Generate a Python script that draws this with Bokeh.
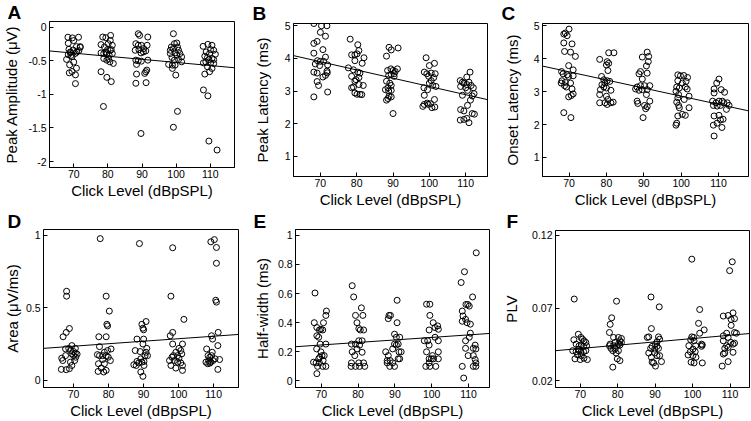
from bokeh.plotting import figure
from bokeh.layouts import column, row
from bokeh.models import Range1d, FixedTicker
from bokeh.embed import file_html
from bokeh.resources import INLINE

FONT = "Liberation Sans"

x_ticks = [70, 80, 90, 100, 110]
x_tick_labels = ["70", "80", "90", "100", "110"]
x_label = "Click Level (dBpSPL)"

# ---------------- Panel A: Peak amplitude (uV) ----------------
a_points = [
    (68.3, -0.15), (69.6, -0.16), (71.4, -0.15), (70.0, -0.20), (68.4, -0.24), (70.8, -0.29), (71.9, -0.29),
    (68.6, -0.33), (69.8, -0.34), (69.0, -0.37), (70.9, -0.37), (70.5, -0.39), (68.4, -0.41), (69.5, -0.44),
    (67.9, -0.48), (70.0, -0.52), (68.8, -0.56), (70.8, -0.61), (69.5, -0.66), (68.7, -0.68), (70.5, -0.71),
    (70.5, -0.84), (71.5, -0.35), (69.2, -0.42), (71.9, -0.30), (69.0, -0.38),
    (78.5, -0.147), (79.4, -0.157), (80.8, -0.123), (78.0, -0.26), (79.0, -0.295), (80.1, -0.246), (80.7, -0.197),
    (81.3, -0.27), (79.9, -0.334), (81.0, -0.334), (78.0, -0.383), (78.8, -0.393), (79.4, -0.369), (80.4, -0.418),
    (81.3, -0.393), (78.8, -0.467), (79.7, -0.491), (80.6, -0.516), (81.6, -0.54), (80.2, -0.467), (78.0, -0.663),
    (79.7, -0.747), (81.0, -0.81), (78.7, -1.18), (79.7, -0.393), (80.7, -0.344),
    (88.9, -0.098), (89.3, -0.123), (91.7, -0.147), (88.2, -0.246), (88.9, -0.27), (89.8, -0.27), (90.5, -0.319),
    (89.1, -0.334), (88.0, -0.344), (91.1, -0.354), (91.5, -0.27), (90.4, -0.369), (88.2, -0.491), (88.9, -0.501),
    (89.8, -0.506), (91.7, -0.491), (88.4, -0.555), (91.4, -0.639), (91.1, -0.663), (90.8, -0.688), (88.4, -0.698),
    (88.2, -0.835), (91.2, -0.826), (89.7, -1.582), (89.7, -0.383),
    (99.2, -0.098), (99.5, -0.246), (100.2, -0.236), (98.6, -0.295), (99.2, -0.319), (100.4, -0.295), (98.3, -0.393),
    (99.7, -0.383), (101.1, -0.393), (101.6, -0.442), (98.8, -0.452), (100.2, -0.418), (100.7, -0.482), (97.8, -0.555),
    (98.9, -0.565), (99.7, -0.565), (101.6, -0.516), (98.9, -0.614), (99.9, -0.713), (100.4, -1.253), (99.2, -1.489),
    (98.3, -0.344), (100.7, -0.344), (99.5, -0.491),
    (107.9, -0.285), (109.3, -0.256), (110.5, -0.27), (110.1, -0.334), (111.0, -0.344), (108.8, -0.369), (109.8, -0.393),
    (108.4, -0.432), (109.2, -0.452), (109.6, -0.482), (110.5, -0.467), (111.0, -0.482), (108.0, -0.531), (108.7, -0.516),
    (110.1, -0.531), (111.0, -0.541), (109.2, -0.59), (110.5, -0.614), (109.8, -0.663), (108.4, -0.698), (108.0, -0.934),
    (109.3, -1.022), (109.6, -1.695), (112.0, -1.828), (111.5, -0.403),
]
a_fit = (-0.479, -0.00461)   # fitted value at 90 dB, slope per dB
a_yticks = [0, -0.5, -1, -1.5, -2]
a_ylabels = ["0", "-0.5", "-1", "-1.5", "-2"]

# ---------------- Panel B: Peak latency (ms) ----------------
b_points = [
    (68.2, 5.07), (70.3, 5.0), (71.8, 5.0), (70.0, 4.8), (71.4, 4.68), (69.1, 4.52), (68.2, 4.46), (70.7, 4.27),
    (68.2, 4.16), (71.4, 4.04), (69.2, 3.93), (70.0, 3.91), (70.9, 3.91), (68.6, 3.83), (72.0, 3.80), (69.8, 3.78),
    (68.2, 3.58), (69.1, 3.55), (71.8, 3.61), (71.4, 3.48), (70.7, 3.43), (69.1, 3.29), (69.5, 3.17), (72.0, 2.97),
    (68.2, 2.82), (71.9, 3.56),
    (78.2, 4.59), (80.3, 4.42), (78.6, 4.11), (79.5, 4.11), (80.6, 4.24), (80.1, 4.14), (79.5, 3.93), (82.0, 4.02),
    (77.7, 3.71), (79.1, 3.65), (81.5, 3.85), (80.3, 3.58), (78.6, 3.45), (80.9, 3.55), (79.8, 3.35), (80.6, 3.41),
    (79.5, 3.30), (81.8, 3.17), (78.6, 3.10), (79.1, 3.12), (79.5, 2.94), (80.9, 2.90), (81.4, 2.89), (80.1, 2.90),
    (80.6, 3.20),
    (88.9, 4.34), (88.2, 4.07), (89.5, 4.26), (91.4, 4.32), (88.5, 3.63), (89.4, 3.68), (90.0, 3.63), (90.6, 3.60),
    (91.2, 3.68), (88.8, 3.48), (89.5, 3.51), (90.3, 3.53), (88.2, 3.30), (89.1, 3.24), (89.5, 3.17), (88.6, 3.10),
    (87.9, 3.04), (88.8, 3.0), (89.5, 3.02), (88.9, 2.84), (89.5, 2.82), (88.6, 2.77), (88.2, 2.72), (90.0, 2.31),
    (90.3, 3.45),
    (99.1, 4.02), (100.0, 3.78), (101.4, 3.85), (98.6, 3.58), (99.3, 3.53), (100.5, 3.55), (101.6, 3.53), (101.2, 3.41),
    (99.8, 3.45), (100.5, 3.32), (100.0, 3.24), (98.5, 3.10), (100.9, 3.17), (101.8, 3.14), (99.5, 3.04), (98.6, 2.87),
    (99.4, 2.63), (98.6, 2.59), (100.3, 2.61), (101.4, 2.74), (98.2, 2.53), (100.7, 2.49), (101.5, 2.51), (99.7, 2.59),
    (108.5, 3.32), (109.1, 3.27), (110.3, 3.43), (111.2, 3.58), (109.5, 3.24), (110.3, 3.20), (110.9, 3.27), (111.5, 3.17),
    (112.1, 3.10), (108.6, 3.14), (110.0, 3.10), (112.3, 2.92), (111.8, 2.85), (109.1, 2.87), (110.5, 3.02), (111.3, 2.72),
    (110.5, 2.56), (108.6, 2.43), (109.5, 2.39), (111.8, 2.31), (112.4, 2.29), (110.3, 2.16), (109.5, 2.13), (110.9, 2.03),
    (108.5, 2.11),
]
b_fit = (3.393, -0.02528)
b_yticks = [1, 2, 3, 4, 5]
b_ylabels = ["1", "2", "3", "4", "5"]

# ---------------- Panel C: Onset latency (ms) ----------------
c_points = [
    (70.0, 4.90), (69.0, 4.78), (69.5, 4.70), (68.6, 4.75), (68.6, 4.48), (70.8, 4.45), (68.8, 4.22), (70.4, 4.20),
    (71.7, 4.07), (69.9, 3.79), (71.1, 3.66), (68.0, 3.61), (68.4, 3.54), (69.5, 3.51), (69.9, 3.46), (71.1, 3.48),
    (68.1, 3.33), (69.0, 3.28), (67.9, 3.26), (70.4, 3.26), (68.8, 3.18), (69.3, 3.14), (70.8, 3.08), (71.1, 2.93),
    (70.6, 2.88), (69.9, 2.84), (68.6, 2.36), (70.5, 2.21),
    (78.2, 3.98), (80.6, 4.18), (82.0, 4.18), (80.2, 3.91), (80.6, 3.86), (80.0, 3.81), (80.4, 3.64), (78.7, 3.46),
    (79.3, 3.36), (80.2, 3.33), (80.9, 3.31), (79.6, 3.26), (78.8, 3.21), (79.3, 3.14), (78.4, 3.06), (81.2, 3.04),
    (80.0, 3.11), (78.2, 2.91), (80.0, 2.86), (80.4, 2.76), (78.2, 2.66), (79.6, 2.66), (81.2, 2.66), (81.8, 2.68),
    (80.2, 2.61),
    (89.6, 4.05), (90.9, 4.20), (91.3, 4.07), (91.2, 3.91), (90.7, 3.78), (89.1, 3.61), (88.7, 3.54), (90.9, 3.56),
    (89.6, 3.38), (89.1, 3.18), (88.2, 3.14), (90.2, 3.18), (91.6, 3.18), (87.8, 3.08), (88.7, 3.04), (89.6, 3.06),
    (90.9, 3.06), (90.7, 2.91), (88.2, 2.71), (88.4, 2.64), (90.2, 2.58), (90.9, 2.54), (90.5, 2.48), (89.8, 2.21),
    (91.6, 2.71),
    (99.1, 3.51), (99.8, 3.48), (100.7, 3.49), (101.7, 3.43), (99.1, 3.33), (100.3, 3.26), (101.3, 3.31), (98.8, 3.14),
    (99.5, 3.11), (101.1, 3.14), (101.6, 3.08), (98.6, 3.01), (99.3, 2.91), (100.8, 2.76), (102.1, 2.86), (99.1, 2.81),
    (98.8, 2.68), (99.3, 2.58), (99.5, 2.51), (102.1, 2.51), (100.3, 2.31), (101.1, 2.28), (99.1, 2.26), (98.8, 2.04),
    (98.6, 1.98),
    (110.1, 3.38), (109.5, 3.26), (108.8, 3.08), (110.7, 3.06), (108.8, 2.96), (108.4, 2.71), (109.3, 2.66), (110.1, 2.71),
    (111.0, 2.71), (111.4, 2.66), (112.3, 2.66), (108.6, 2.58), (109.6, 2.56), (110.5, 2.58), (112.8, 2.58), (112.1, 2.46),
    (108.8, 2.26), (110.1, 2.28), (110.5, 2.14), (111.2, 2.16), (109.6, 2.04), (108.6, 1.98), (110.9, 1.91), (108.8, 1.65),
    (111.6, 2.98),
]
c_fit = (3.107, -0.02469)
c_yticks = [1, 2, 3, 4, 5]
c_ylabels = ["1", "2", "3", "4", "5"]

# ---------------- Panel D: Area (uV/ms) ----------------
d_points = [
    (68.0, 0.614), (68.0, 0.58), (67.0, 0.30), (67.9, 0.33), (68.8, 0.357), (69.5, 0.239), (67.7, 0.216), (68.6, 0.22),
    (69.1, 0.205), (70.0, 0.198), (70.5, 0.22), (66.6, 0.152), (66.9, 0.136), (67.7, 0.17), (69.5, 0.182), (70.0, 0.17),
    (70.5, 0.186), (70.6, 0.159), (70.3, 0.136), (69.5, 0.102), (69.1, 0.125), (66.5, 0.075), (67.9, 0.073), (68.8, 0.08),
    (71.0, 0.18),
    (77.6, 0.977), (79.3, 0.58), (80.2, 0.477), (79.5, 0.386), (79.7, 0.375), (77.2, 0.30), (79.3, 0.30), (77.4, 0.232),
    (80.7, 0.216), (78.8, 0.193), (79.7, 0.205), (76.8, 0.177), (78.3, 0.17), (79.3, 0.17), (79.9, 0.159), (80.5, 0.136),
    (78.3, 0.143), (77.1, 0.114), (78.8, 0.114), (77.9, 0.084), (77.0, 0.061), (78.6, 0.057), (79.3, 0.068), (77.4, 0.17),
    (88.8, 0.943), (90.7, 0.405), (89.5, 0.386), (89.8, 0.359), (90.0, 0.348), (88.1, 0.284), (90.0, 0.284), (89.8, 0.25),
    (87.6, 0.205), (89.0, 0.198), (90.9, 0.22), (90.4, 0.17), (91.1, 0.17), (89.2, 0.148), (88.1, 0.13), (88.6, 0.12),
    (89.5, 0.125), (90.1, 0.13), (87.2, 0.107), (87.9, 0.102), (90.1, 0.102), (89.2, 0.057), (89.8, 0.027), (90.7, 0.193),
    (98.3, 0.914), (97.8, 0.58), (101.5, 0.42), (98.3, 0.33), (97.6, 0.307), (98.3, 0.25), (101.1, 0.25), (100.1, 0.22),
    (100.6, 0.205), (99.2, 0.193), (98.5, 0.17), (99.7, 0.17), (100.9, 0.182), (98.1, 0.159), (97.4, 0.136), (98.8, 0.136),
    (99.7, 0.125), (100.6, 0.12), (101.1, 0.102), (97.8, 0.102), (99.2, 0.084), (101.1, 0.068), (100.1, 0.152),
    (109.2, 0.955), (110.2, 0.97), (110.8, 0.916), (110.8, 0.807), (110.6, 0.552), (110.8, 0.539), (111.3, 0.33),
    (109.4, 0.307), (109.7, 0.284), (108.0, 0.216), (111.2, 0.239), (109.6, 0.193), (108.4, 0.17), (108.9, 0.159),
    (109.4, 0.17), (108.6, 0.136), (107.8, 0.125), (108.3, 0.114), (109.2, 0.125), (109.8, 0.136), (110.4, 0.148),
    (111.7, 0.143), (111.2, 0.075), (108.9, 0.118),
]
d_fit = (0.2693, 0.001724)
d_yticks = [0, 0.5, 1]
d_ylabels = ["0", "0.5", "1"]

# ---------------- Panel E: Half-width (ms) ----------------
e_points = [
    (68.3, 0.604), (68.1, 0.40), (71.25, 0.45), (71.4, 0.48), (70.6, 0.40), (69.9, 0.355), (70.4, 0.35), (68.8, 0.367),
    (69.5, 0.35), (68.8, 0.31), (69.3, 0.30), (69.7, 0.253), (71.25, 0.253), (68.75, 0.22), (69.9, 0.20), (70.2, 0.174),
    (70.8, 0.174), (69.6, 0.163), (67.9, 0.129), (68.6, 0.124), (69.3, 0.152), (69.0, 0.10), (69.5, 0.124), (70.4, 0.10),
    (71.25, 0.10), (68.8, 0.05), (70.5, 0.14),
    (78.4, 0.654), (78.8, 0.577), (80.9, 0.502), (79.3, 0.45), (81.3, 0.45), (79.7, 0.40), (80.2, 0.36), (80.6, 0.35),
    (81.5, 0.35), (78.2, 0.253), (80.2, 0.276), (81.1, 0.276), (79.3, 0.253), (80.4, 0.246), (78.4, 0.20), (79.7, 0.22),
    (81.1, 0.197), (79.1, 0.174), (78.2, 0.124), (80.2, 0.124), (81.5, 0.124), (78.1, 0.10), (79.3, 0.10), (80.4, 0.10),
    (81.8, 0.10),
    (90.6, 0.554), (88.4, 0.45), (88.8, 0.45), (88.2, 0.428), (90.6, 0.40), (89.9, 0.321), (90.4, 0.30), (91.3, 0.30),
    (87.5, 0.20), (88.2, 0.174), (88.7, 0.14), (89.9, 0.253), (90.4, 0.247), (90.9, 0.253), (89.4, 0.22), (91.1, 0.20),
    (91.7, 0.20), (87.9, 0.124), (89.4, 0.124), (88.6, 0.10), (89.9, 0.10), (90.9, 0.152), (91.3, 0.152), (87.9, 0.14),
    (98.6, 0.527), (99.5, 0.527), (99.5, 0.45), (100.4, 0.40), (100.9, 0.367), (101.6, 0.378), (101.8, 0.355), (99.3, 0.35),
    (98.0, 0.276), (98.9, 0.276), (100.9, 0.30), (101.8, 0.276), (99.3, 0.246), (98.6, 0.20), (101.8, 0.20), (100.2, 0.174),
    (99.3, 0.152), (99.9, 0.152), (100.5, 0.152), (101.8, 0.152), (99.3, 0.124), (99.5, 0.10), (101.1, 0.10), (98.4, 0.10),
    (112.1, 0.88), (108.9, 0.75), (108.0, 0.676), (111.1, 0.577), (109.8, 0.525), (109.3, 0.525), (110.2, 0.514),
    (108.3, 0.48), (108.5, 0.446), (109.2, 0.423), (108.3, 0.41), (109.6, 0.40), (110.5, 0.39), (110.5, 0.328),
    (110.2, 0.30), (109.2, 0.276), (111.8, 0.246), (111.3, 0.224), (112.0, 0.22), (109.2, 0.224), (109.9, 0.174),
    (111.3, 0.174), (111.8, 0.147), (112.0, 0.124), (108.3, 0.10), (111.3, 0.10), (112.0, 0.10), (108.7, 0.02),
]
e_fit = (0.2816, 0.001727)
e_yticks = [0, 0.2, 0.4, 0.6, 0.8, 1]
e_ylabels = ["0", "0.2", "0.4", "0.6", "0.8", "1"]

# ---------------- Panel F: PLV ----------------
f_points = [
    (68.4, 0.0763), (68.3, 0.0483), (69.5, 0.0521), (70.2, 0.0499), (70.6, 0.0487), (71.0, 0.0476), (71.5, 0.0465),
    (68.9, 0.0453), (69.7, 0.0442), (70.3, 0.0447), (70.9, 0.0438), (68.0, 0.0408), (68.9, 0.0401), (69.7, 0.0408),
    (70.2, 0.0397), (70.9, 0.0401), (71.5, 0.0408), (69.3, 0.0379), (70.3, 0.0374), (68.6, 0.0352), (70.0, 0.0347),
    (71.0, 0.0356), (71.9, 0.0347), (69.5, 0.0419), (71.7, 0.0442),
    (79.7, 0.0748), (78.4, 0.0634), (78.0, 0.0589), (77.8, 0.0533), (78.9, 0.0499), (80.2, 0.0499), (81.0, 0.0492),
    (80.6, 0.0476), (79.3, 0.0465), (78.0, 0.0453), (80.2, 0.0453), (78.9, 0.0442), (79.7, 0.0438), (80.6, 0.0447),
    (78.2, 0.0424), (79.3, 0.0419), (78.7, 0.0408), (80.2, 0.0408), (79.6, 0.0392), (79.9, 0.0352), (80.6, 0.034),
    (78.7, 0.0295), (77.8, 0.0442), (81.0, 0.0465),
    (88.9, 0.0777), (91.1, 0.0709), (89.0, 0.056), (88.3, 0.0503), (87.9, 0.0499), (90.9, 0.0503), (91.2, 0.0487),
    (90.5, 0.0469), (90.1, 0.0453), (89.2, 0.0438), (90.5, 0.0438), (89.9, 0.0419), (88.8, 0.0424), (90.9, 0.0424),
    (89.9, 0.0392), (90.5, 0.0374), (89.0, 0.0363), (89.2, 0.0329), (89.6, 0.0324), (91.7, 0.0333), (90.1, 0.0302),
    (91.2, 0.0374), (88.3, 0.0392),
    (99.8, 0.1037), (101.9, 0.0691), (101.6, 0.0596), (103.1, 0.0551), (101.9, 0.0528), (99.8, 0.0503), (100.3, 0.0499),
    (99.5, 0.0483), (100.4, 0.0476), (99.0, 0.0442), (100.8, 0.0442), (102.4, 0.0453), (102.6, 0.0447), (102.4, 0.0438),
    (100.1, 0.0419), (99.4, 0.0401), (100.7, 0.0401), (98.8, 0.0379), (100.1, 0.0374), (100.9, 0.0363), (99.6, 0.0329),
    (100.4, 0.0324), (102.6, 0.0324),
    (109.9, 0.0958), (110.6, 0.1019), (108.2, 0.0646), (109.5, 0.0650), (110.8, 0.0668), (111.2, 0.0628), (110.3, 0.0623),
    (110.3, 0.0582), (108.2, 0.0510), (109.1, 0.0528), (109.5, 0.0499), (111.2, 0.0533), (111.7, 0.0528), (108.2, 0.0476),
    (110.2, 0.0465), (111.2, 0.0460), (110.8, 0.0453), (109.1, 0.0442), (108.6, 0.0424), (109.5, 0.0431), (108.2, 0.0385),
    (108.6, 0.0392), (110.8, 0.0397), (109.5, 0.0333), (107.9, 0.0302),
]
f_fit = (0.04686, 0.0002278)
f_yticks = [0.02, 0.07, 0.12]
f_ylabels = ["0.02", "0.07", "0.12"]


def panel(letter, points, fit, ylabel, yticks, ylabels, xr, yr, w, h, bl, br, bt, bb, ystand, toff, tstand):
    p = figure(width=w, height=h, x_range=Range1d(*xr), y_range=Range1d(*yr),
               output_backend="svg", toolbar_location=None, title=letter,
               min_border_left=bl, min_border_right=br, min_border_top=bt, min_border_bottom=bb)
    p.title.text_font = FONT
    p.title.text_font_size = "19px"
    p.title.text_font_style = "bold"
    p.title.text_color = "black"
    p.title.align = "left"
    p.title.offset = toff
    p.title.standoff = tstand
    p.xgrid.visible = False
    p.ygrid.visible = False
    p.outline_line_color = "black"
    p.outline_line_alpha = 1.0
    p.outline_line_width = 1
    for ax in (p.xaxis[0], p.yaxis[0]):
        ax.major_tick_in = 4
        ax.major_tick_out = 0
        ax.minor_tick_in = 0
        ax.minor_tick_out = 0
        ax.axis_line_color = "black"
        ax.major_tick_line_color = "black"
        ax.major_label_text_font = FONT
        ax.major_label_text_font_size = "10.5px"
        ax.major_label_text_color = "black"
        ax.axis_label_text_font = FONT
        ax.axis_label_text_font_size = "15px"
        ax.axis_label_text_font_style = "normal"
        ax.axis_label_text_color = "black"
    p.xaxis.major_label_standoff = 2
    p.xaxis.axis_label_standoff = 1
    p.yaxis.major_label_standoff = 3
    p.yaxis.axis_label_standoff = ystand
    p.xaxis.ticker = FixedTicker(ticks=x_ticks)
    p.xaxis.major_label_overrides = dict(zip(x_ticks, x_tick_labels))
    p.xaxis.axis_label = x_label
    p.yaxis.ticker = FixedTicker(ticks=yticks)
    p.yaxis.major_label_overrides = dict(zip(yticks, ylabels))
    p.yaxis.axis_label = ylabel
    xs = [pt[0] for pt in points]
    ys = [pt[1] for pt in points]
    p.scatter(xs, ys, marker="circle", size=6, fill_color=None, line_color="black", line_width=1)
    lx = [xr[0], xr[1]]
    ly = [fit[0] + fit[1] * (x - 90) for x in lx]
    p.line(lx, ly, line_color="black", line_width=1)
    return p


pa = panel("A", a_points, a_fit, "Peak Amplitude (μV)", a_yticks, a_ylabels,
           (62.9, 117.1), (-2.088, 0.084), 250, 210, 43, 16, 21, 43, 5, -42, -2)
pb = panel("B", b_points, b_fit, "Peak Latency (ms)", b_yticks, b_ylabels,
           (62.6, 116.0), (0.38, 5.07), 250, 210, 42, 13, 23, 32, 11, -41, 0)
pc = panel("C", c_points, c_fit, "Onset Latency (ms)", c_yticks, c_ylabels,
           (62.9, 118.0), (0.42, 5.07), 251, 210, 42, 3, 23, 32, 10, -41, 0)
pd_ = panel("D", d_points, d_fit, "Area (μV/ms)", d_yticks, d_ylabels,
            (61.4, 117.1), (-0.05, 1.04), 250, 211, 37, 12, 19, 32, 2, -36, -4)
pe = panel("E", e_points, e_fit, "Half-width (ms)", e_yticks, e_ylabels,
           (63.0, 115.7), (-0.045, 1.04), 250, 211, 43, 11, 19, 32, 4, -42, -4)
pf = panel("F", f_points, f_fit, "PLV", f_yticks, f_ylabels,
           (63.4, 115.2), (0.0155, 0.1234), 251, 211, 51, 2, 20, 32, 9, -49, -3)

layout = column(row(column(pa), column(pb), column(pc)),
                row(column(pd_), column(pe), column(pf)))

open("out.html", "w").write(file_html(layout, INLINE))
